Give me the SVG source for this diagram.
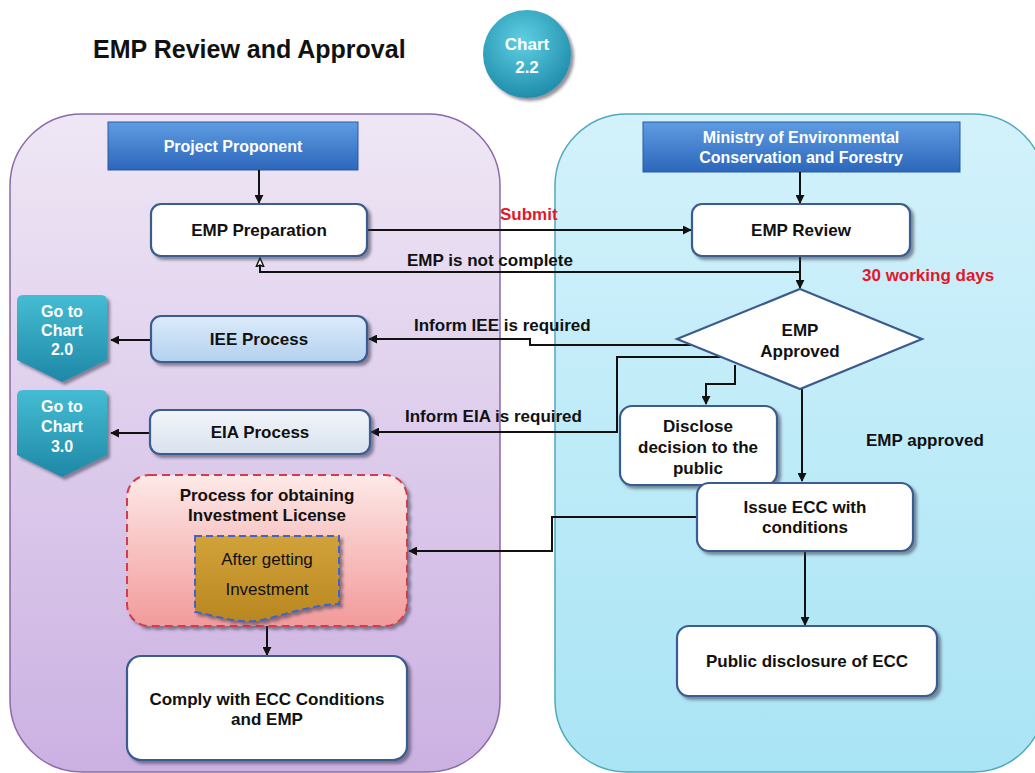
<svg xmlns="http://www.w3.org/2000/svg" width="1035" height="773" viewBox="0 0 1035 773">
  <defs>
    <linearGradient id="gLeft" x1="0" y1="0" x2="0" y2="1">
      <stop offset="0" stop-color="#efe7f5"/>
      <stop offset="1" stop-color="#cbb1e2"/>
    </linearGradient>
    <linearGradient id="gRight" x1="0" y1="0" x2="0" y2="1">
      <stop offset="0" stop-color="#d3f2fb"/>
      <stop offset="1" stop-color="#a9e4f5"/>
    </linearGradient>
    <linearGradient id="gHead" x1="0" y1="0" x2="0" y2="1">
      <stop offset="0" stop-color="#5f9de2"/>
      <stop offset="1" stop-color="#2c66bb"/>
    </linearGradient>
    <radialGradient id="gCircle" cx="0.45" cy="0.35" r="0.7">
      <stop offset="0" stop-color="#5fd0e3"/>
      <stop offset="1" stop-color="#1b88a8"/>
    </radialGradient>
    <linearGradient id="gGoto" x1="0" y1="0" x2="0" y2="1">
      <stop offset="0" stop-color="#45bcd4"/>
      <stop offset="1" stop-color="#1e88a6"/>
    </linearGradient>
    <linearGradient id="gIEE" x1="0" y1="0" x2="0" y2="1">
      <stop offset="0" stop-color="#dcebfa"/>
      <stop offset="1" stop-color="#b3d1ef"/>
    </linearGradient>
    <linearGradient id="gEIA" x1="0" y1="0" x2="0" y2="1">
      <stop offset="0" stop-color="#f2f5f9"/>
      <stop offset="1" stop-color="#d8e2ee"/>
    </linearGradient>
    <linearGradient id="gInv" x1="0" y1="0" x2="0" y2="1">
      <stop offset="0" stop-color="#fde9e7"/>
      <stop offset="1" stop-color="#f29a9a"/>
    </linearGradient>
    <linearGradient id="gGold" x1="0" y1="0" x2="0" y2="1">
      <stop offset="0" stop-color="#d2a23a"/>
      <stop offset="1" stop-color="#b98720"/>
    </linearGradient>
    <filter id="shadow" x="-10%" y="-10%" width="130%" height="140%">
      <feDropShadow dx="3" dy="3" stdDeviation="1.8" flood-color="#3a3a50" flood-opacity="0.55"/>
    </filter>
    <marker id="arrow" viewBox="0 0 10 10" refX="9" refY="5" markerWidth="9" markerHeight="9" orient="auto-start-reverse" markerUnits="userSpaceOnUse">
      <path d="M0,0 L10,5 L0,10 Z" fill="#111"/>
    </marker>
    <marker id="arrowOpen" viewBox="0 0 10 10" refX="9" refY="5" markerWidth="10" markerHeight="10" orient="auto" markerUnits="userSpaceOnUse">
      <path d="M0,1 L9,5 L0,9 L2,5 Z" fill="#fff" stroke="#111" stroke-width="1.4"/>
    </marker>
    <style>
      text { font-family: "Liberation Sans", Arial, sans-serif; font-weight: bold; text-anchor: middle; fill: #111; }
      .title { font-size: 25px; text-anchor: start; }
      .head { font-size: 16px; fill: #fff; }
      .lbl { font-size: 17px; }
      .edge { font-size: 17px; text-anchor: start; }
      .red { fill: #e4162a; }
      .white { fill: #fff; }
      .box { fill: #fff; stroke: #3b5b8f; stroke-width: 2.2; filter: url(#shadow); }
      .conn { fill: none; stroke: #111; stroke-width: 2; }
    </style>
  </defs>

  <rect width="1035" height="773" fill="#fff"/>

  <!-- swimlane backgrounds -->
  <rect x="10" y="114" width="490" height="658" rx="72" ry="72" fill="url(#gLeft)" stroke="#8a6aa8" stroke-width="1.5"/>
  <rect x="555" y="114" width="490" height="658" rx="72" ry="72" fill="url(#gRight)" stroke="#4fa9bd" stroke-width="1.5"/>

  <!-- title -->
  <g id="title">
    <text class="title" x="93" y="58">EMP Review and Approval</text>
  </g>
  <g id="chart-badge">
    <circle cx="527" cy="54" r="44" fill="url(#gCircle)" filter="url(#shadow)"/>
    <text class="white" x="527" y="50" font-size="17">Chart</text>
    <text class="white" x="527" y="73" font-size="17">2.2</text>
  </g>

  <!-- lane headers -->
  <g id="project-proponent">
    <rect x="108" y="122" width="250" height="48" fill="url(#gHead)" stroke="#2a5aa0" stroke-width="1"/>
    <text class="head" x="233" y="152">Project Proponent</text>
  </g>
  <g id="ministry">
    <rect x="643" y="122" width="317" height="50" fill="url(#gHead)" stroke="#2a5aa0" stroke-width="1"/>
    <text class="head" x="801" y="143">Ministry of Environmental</text>
    <text class="head" x="801" y="163">Conservation and Forestry</text>
  </g>

  <!-- connectors -->
  <g id="connectors">
    <line class="conn" x1="259" y1="170" x2="259" y2="203" marker-end="url(#arrow)"/>
    <line class="conn" x1="800" y1="172" x2="800" y2="203" marker-end="url(#arrow)"/>
    <line class="conn" x1="367" y1="230" x2="691" y2="230" marker-end="url(#arrow)"/>
    <line class="conn" x1="800" y1="256" x2="800" y2="288" marker-end="url(#arrow)"/>
    <polyline class="conn" points="800,272 260,272 260,258" marker-end="url(#arrowOpen)"/>
    <polyline class="conn" points="692,345 530,345 530,339 369,339" marker-end="url(#arrow)"/>
    <polyline class="conn" points="728,357 617,357 617,432 371,432" marker-end="url(#arrow)"/>
    <polyline class="conn" points="735,365 735,384 706,384 706,404" marker-end="url(#arrow)"/>
    <line class="conn" x1="802" y1="389" x2="802" y2="481" marker-end="url(#arrow)"/>
    <polyline class="conn" points="697,517 552,517 552,551 409,551" marker-end="url(#arrow)"/>
    <line class="conn" x1="805" y1="551" x2="805" y2="625" marker-end="url(#arrow)"/>
    <line class="conn" x1="151" y1="340" x2="111" y2="340" marker-end="url(#arrow)"/>
    <line class="conn" x1="150" y1="433" x2="111" y2="433" marker-end="url(#arrow)"/>
    <line class="conn" x1="267" y1="626" x2="267" y2="655" marker-end="url(#arrow)"/>
    <text class="edge red" x="500" y="220">Submit</text>
    <text class="edge" x="407" y="266">EMP is not complete</text>
    <text class="edge" x="414" y="331">Inform IEE is required</text>
    <text class="edge" x="405" y="422">Inform EIA is required</text>
    <text class="edge red" x="862" y="281">30 working days</text>
    <text class="edge" x="866" y="446">EMP approved</text>
  </g>

  <!-- project proponent lane -->
  <g id="emp-preparation">
    <rect class="box" x="151" y="204" width="216" height="52" rx="10"/>
    <text class="lbl" x="259" y="236">EMP Preparation</text>
  </g>
  <g id="iee-process">
    <rect class="box" x="151" y="316" width="216" height="46" rx="10" style="fill:url(#gIEE)"/>
    <text class="lbl" x="259" y="345">IEE Process</text>
  </g>
  <g id="eia-process">
    <rect class="box" x="150" y="410" width="220" height="44" rx="10" style="fill:url(#gEIA)"/>
    <text class="lbl" x="260" y="438">EIA Process</text>
  </g>
  <g id="goto-chart-2">
    <path d="M17,301 Q17,295 23,295 L101,295 Q107,295 107,301 L107,360 L62,382 L17,360 Z" fill="url(#gGoto)" filter="url(#shadow)"/>
    <text class="white" x="62" y="317" font-size="16">Go to</text>
    <text class="white" x="62" y="336" font-size="16">Chart</text>
    <text class="white" x="62" y="355" font-size="16">2.0</text>
  </g>
  <g id="goto-chart-3">
    <path d="M17,396 Q17,390 23,390 L101,390 Q107,390 107,396 L107,455 L62,477 L17,455 Z" fill="url(#gGoto)" filter="url(#shadow)"/>
    <text class="white" x="62" y="412" font-size="16">Go to</text>
    <text class="white" x="62" y="432" font-size="16">Chart</text>
    <text class="white" x="62" y="452" font-size="16">3.0</text>
  </g>
  <g id="investment-license">
    <rect x="127" y="475" width="280" height="151" rx="22" fill="url(#gInv)" stroke="#d23c4c" stroke-width="2" stroke-dasharray="8,5" filter="url(#shadow)"/>
    <text class="lbl" x="267" y="501" font-size="16">Process for obtaining</text>
    <text class="lbl" x="267" y="521" font-size="16">Investment License</text>
    <path d="M195,536 H339 V604 C315,605 292,612 267,619 C243,626 218,616 195,612 Z" fill="url(#gGold)" stroke="#3f63c4" stroke-width="2" stroke-dasharray="7,4" filter="url(#shadow)"/>
    <text x="267" y="565" font-size="17" style="font-weight:normal">After getting</text>
    <text x="267" y="595" font-size="17" style="font-weight:normal">Investment</text>
  </g>
  <g id="comply">
    <rect class="box" x="127" y="656" width="280" height="104" rx="14"/>
    <text class="lbl" x="267" y="705">Comply with ECC Conditions</text>
    <text class="lbl" x="267" y="725">and EMP</text>
  </g>

  <!-- ministry lane -->
  <g id="emp-review">
    <rect class="box" x="692" y="204" width="218" height="52" rx="10"/>
    <text class="lbl" x="801" y="236">EMP Review</text>
  </g>
  <g id="emp-approved">
    <path d="M800,289 L922,339 L800,389 L677,339 Z" fill="#fff" stroke="#3b5b8f" stroke-width="2.2"/>
    <text class="lbl" x="800" y="336">EMP</text>
    <text class="lbl" x="800" y="357">Approved</text>
  </g>
  <g id="disclose-decision">
    <rect class="box" x="620" y="406" width="157" height="79" rx="12"/>
    <text class="lbl" x="698" y="432">Disclose</text>
    <text class="lbl" x="698" y="453">decision to the</text>
    <text class="lbl" x="698" y="474">public</text>
  </g>
  <g id="issue-ecc">
    <rect class="box" x="697" y="483" width="216" height="68" rx="12"/>
    <text class="lbl" x="805" y="513">Issue ECC with</text>
    <text class="lbl" x="805" y="533">conditions</text>
  </g>
  <g id="public-disclosure">
    <rect class="box" x="677" y="626" width="260" height="70" rx="12"/>
    <text class="lbl" x="807" y="667">Public disclosure of ECC</text>
  </g>
</svg>
